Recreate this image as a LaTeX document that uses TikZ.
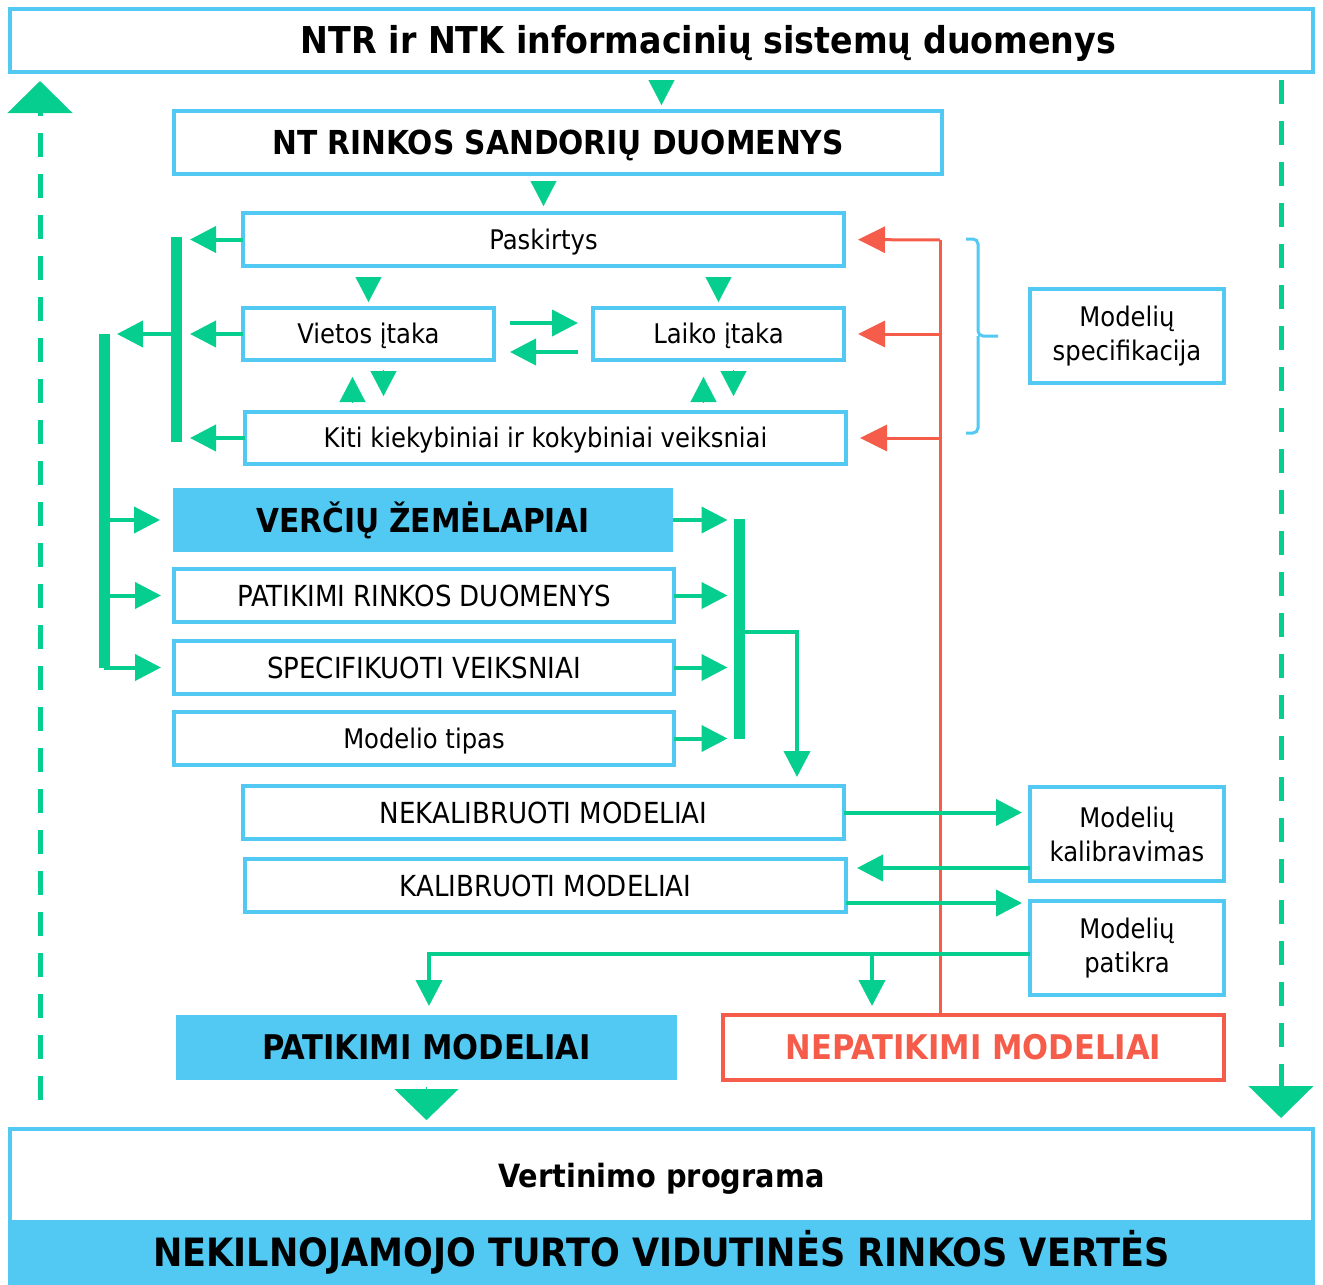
\documentclass[tikz,border=0pt]{standalone}
\usepackage{fontspec}
\setmainfont{DejaVu Sans Condensed}[BoldFont={DejaVu Sans Condensed Bold}]
\usepackage{xcolor}
\usepackage{tikz}
\usetikzlibrary{arrows.meta}

\definecolor{skyb}{HTML}{52C9F2}
\definecolor{grn}{HTML}{05CE8E}
\definecolor{rd}{HTML}{F55D4A}

\tikzset{
    box/.style = {draw=skyb, line width=4pt, fill=white, inner sep=0pt, outer sep=0pt, align=center, font=\fontsize{27}{34}\selectfont},
    one/.style = {text height=19.7pt, text depth=0pt},
    caps/.style = {font=\fontsize{29}{34}\selectfont, text height=21.2pt, text depth=0pt},
    bold/.style = {font=\bfseries\fontsize{#1}{#1}\selectfont, text height={0.729*#1pt}, text depth=0pt},
    fillbox/.style = {fill=skyb, inner sep=0pt, outer sep=0pt},
    garr/.style = {grn, line width=4pt, -{Triangle[width=26pt,length=26pt]}},
    tri/.style = {grn, line width=0.1pt, -{Triangle[width=26pt,length=25pt]}},
    bigtri/.style = {grn, line width=0.1pt, -{Triangle[width=64pt,length=31pt]}},
    bar/.style = {grn, line width=11pt},
    rarr/.style = {rd, line width=3pt, -{Triangle[width=26pt,length=27pt]}},
    dasharr/.style = {grn, line width=5pt, dash pattern=on 24pt off 17pt, -{Triangle[width=64pt,length=32pt]}}
}

\begin{document}
\begin{tikzpicture}[x=1pt, y=-1pt]
        \useasboundingbox (0,0) rectangle (1323,1285);
        \begin{scope}[every node/.style = {box}]
            \node[bold=37, minimum width=1303pt, minimum height=63pt] (ntr) at (661.5,40.5) {\hspace*{94pt}NTR ir NTK informacinių sistemų duomenys};
            \node[bold=33, minimum width=768pt, minimum height=63pt] (sand) at (558,142.5) {NT RINKOS SANDORIŲ DUOMENYS};
            \node[one, minimum width=601pt, minimum height=53pt] (pask) at (543.5,239.5) {Paskirtys};
            \node[one, minimum width=251pt, minimum height=52pt] (viet) at (368.5,334) {Vietos įtaka};
            \node[one, minimum width=251pt, minimum height=52pt] (laik) at (718.5,334) {Laiko įtaka};
            \node[one, minimum width=601pt, minimum height=52pt] (kiti) at (545.5,438) {Kiti kiekybiniai ir kokybiniai veiksniai};
            \node[caps, minimum width=500pt, minimum height=53pt] (prd) at (424,595.5) {PATIKIMI RINKOS DUOMENYS};
            \node[caps, minimum width=500pt, minimum height=53pt] (spec) at (424,667.5) {SPECIFIKUOTI VEIKSNIAI};
            \node[one, minimum width=500pt, minimum height=53pt] (tip) at (424,738.5) {Modelio tipas};
            \node[caps, minimum width=601pt, minimum height=53pt] (nekal) at (543.5,812.5) {NEKALIBRUOTI MODELIAI};
            \node[caps, minimum width=601pt, minimum height=53pt] (kal) at (545.5,885.5) {KALIBRUOTI MODELIAI};
            \node[minimum width=194pt, minimum height=94pt] (mspec) at (1127,336) {Modelių\\specifikacija};
            \node[minimum width=194pt, minimum height=94pt] (mkal) at (1127,834) {Modelių\\kalibravimas};
            \node[minimum width=194pt, minimum height=94pt] (mpat) at (1127,948) {Modelių\\patikra};
            \node[bold=34, minimum width=501pt, minimum height=65pt, draw=rd, text=rd] (nepat) at (973.5,1047.5) {NEPATIKIMI MODELIAI};
            \node[bold=32, minimum width=1303pt, minimum height=93pt] (vert) at (661.5,1175.5) {Vertinimo programa};
        \end{scope}
        \begin{scope}[every node/.style = {fillbox}]
            \node[bold=33, minimum width=500pt, minimum height=64pt] (zeml) at (423,520) {VERČIŲ ŽEMĖLAPIAI};
            \node[bold=34, minimum width=501pt, minimum height=65pt] (patmod) at (426.5,1047.5) {PATIKIMI MODELIAI};
            \node[bold=39, minimum width=1307pt, minimum height=65pt] (band) at (661.5,1252.5) {NEKILNOJAMOJO TURTO VIDUTINĖS RINKOS VERTĖS};
        \end{scope}
        \coordinate (b1t) at (176,237);
        \coordinate (b1b) at (176,442);
        \coordinate (b2t) at (104,334);
        \coordinate (b2b) at (104,668);
        \coordinate (b3t) at (739.5,519);
        \coordinate (b3b) at (739.5,739);
        \coordinate (b3m) at (739.5,632);
        \coordinate (dn) at (797,0);
        \coordinate (rt) at (940,240);
        \coordinate (lx) at (40,0);
        \coordinate (rx) at (1281,0);
        \coordinate (pl) at (429,0);
        \coordinate (pr) at (872,0);
        \coordinate (pm) at ([yshift=-6pt]mpat.west);
        \begin{scope}
            \path (ntr.south) edge[tri, shorten <=8pt, shorten >=6pt] (ntr.south |- sand.north);
            \path (sand.south -| pask.north) edge[tri, shorten <=7pt, shorten >=7pt] (pask.north);
            \path (pask.south -| viet.north) edge[tri, shorten <=11pt, shorten >=6pt] (viet.north);
            \path (pask.south -| laik.north) edge[tri, shorten <=11pt, shorten >=6pt] (laik.north);
            \path ([xshift=-16pt]viet.south |- kiti.north) edge[tri, shorten <=9pt, shorten >=17pt] ([xshift=-16pt]viet.south);
            \path ([xshift=15pt]viet.south) edge[tri, shorten <=10pt, shorten >=16pt] ([xshift=15pt]viet.south |- kiti.north);
            \path ([xshift=-15pt]laik.south |- kiti.north) edge[tri, shorten <=9pt, shorten >=17pt] ([xshift=-15pt]laik.south);
            \path ([xshift=15pt]laik.south) edge[tri, shorten <=10pt, shorten >=16pt] ([xshift=15pt]laik.south |- kiti.north);
            \path ([yshift=11pt]viet.east) edge[garr, shorten <=16pt, shorten >=15pt] ([yshift=11pt]viet.east -| laik.west);
            \path ([yshift=-18pt]laik.west) edge[garr, shorten <=15pt, shorten >=16pt] ([yshift=-18pt]laik.west -| viet.east);
        \end{scope}
        \begin{scope}
            \path (pask.west) edge[garr, shorten >=14pt] (pask.west -| b1t);
            \path (viet.west) edge[garr, shorten >=14pt] (viet.west -| b1t);
            \path (kiti.west) edge[garr, shorten >=14pt] (kiti.west -| b1t);
            \path (b1t |- viet.west) edge[garr, shorten >=13pt] (b2t |- viet.west);
            \path (b2t |- zeml.west) edge[garr, shorten >=13pt] (zeml.west);
            \path (b2t |- prd.west) edge[garr, shorten >=13pt] (prd.west);
            \path (b2t |- spec.west) edge[garr, shorten >=13pt] (spec.west);
            \path (zeml.east) edge[garr, shorten >=12pt] (zeml.east -| b3t);
            \path (prd.east) edge[garr, shorten >=12pt] (prd.east -| b3t);
            \path (spec.east) edge[garr, shorten >=12pt] (spec.east -| b3t);
            \path (tip.east) edge[garr, shorten >=12pt] (tip.east -| b3t);
            \path (b1t) edge[bar] (b1b);
            \path (b2t) edge[bar] (b2b);
            \path (b3t) edge[bar] (b3b);
            \draw[garr, shorten >=9pt] (b3m) -| (nekal.north -| dn);
        \end{scope}
        \begin{scope}
            \draw[rd, line width=3pt] (nepat.north -| rt) -- (rt);
            \path (rt) edge[rarr, shorten >=14pt] (pask.east);
            \path (laik.east -| rt) edge[rarr, shorten >=14pt] (laik.east);
            \path (kiti.east -| rt) edge[rarr, shorten >=14pt] (kiti.east);
            \draw[skyb, line width=3pt, rounded corners=5pt] (966,239) -- (978,239) -- (978,336) -- (998,336) (966,433) -- (978,433) -- (978,336);
        \end{scope}
        \begin{scope}
            \path (nekal.east) edge[garr, shorten >=8pt] (nekal.east -| mkal.west);
            \path ([yshift=13pt]mkal.south west) edge[garr, shorten >=11pt] ([yshift=13pt]mkal.south west -| kal.east);
            \path ([yshift=9pt]kal.south east) edge[garr, shorten >=8pt] ([yshift=9pt]kal.south east -| mpat.west);
            \draw[garr, shorten >=9pt] (pm) -| (patmod.north -| pl);
            \path (pm -| pr) edge[garr, shorten >=9pt] (nepat.north -| pr);
            \path (patmod.south) edge[bigtri, shorten <=7pt, shorten >=9pt] (patmod.south |- vert.north);
            \path (vert.north -| lx) edge[dasharr, shorten <=29pt, shorten >=9pt] (ntr.south -| lx);
            \path (ntr.south -| rx) edge[dasharr, shorten <=8pt, shorten >=11pt] (vert.north -| rx);
        \end{scope}
    \end{tikzpicture}
\end{document}
